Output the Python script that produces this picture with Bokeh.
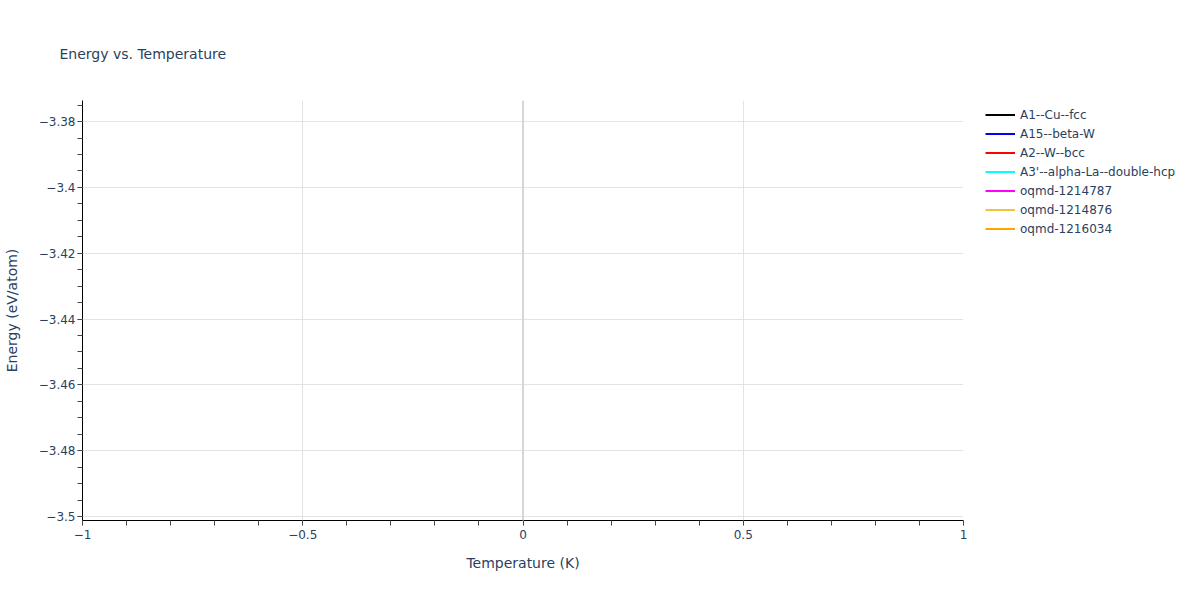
from bokeh.plotting import figure
from bokeh.layouts import row
from bokeh.models import (Legend, LegendItem, FixedTicker, CustomJSTickFormatter,
                          Range1d, Span, Title)
from bokeh.embed import file_html
from bokeh.resources import INLINE

# ---- data ----
series_names = ["A1--Cu--fcc", "A15--beta-W", "A2--W--bcc", "A3'--alpha-La--double-hcp",
                "oqmd-1214787", "oqmd-1214876", "oqmd-1216034"]
series_colors = ["black", "blue", "red", "cyan", "magenta", "#f0c43c", "orange"]
temperatures = [[0.0], [0.0], [0.0], [0.0], [0.0], [0.0], [0.0]]
energies = [[-3.4207], [-3.3737], [-3.5011], [-3.4398], [-3.4524], [-3.4615], [-3.4892]]

x_major = [-1.0, -0.5, 0.0, 0.5, 1.0]
x_minor = [round(-1.0 + 0.1 * i, 1) for i in range(21)]
y_major = [-3.5, -3.48, -3.46, -3.44, -3.42, -3.4, -3.38]
y_minor = [round(-3.5 + 0.005 * i, 3) for i in range(26)]

FONT = "DejaVu Sans"
TXT = "#2a3f5f"
GRID = "#e3e3e3"

H = 584
W_MAIN = 975
W_LEG = 1184 - W_MAIN
L, R, T, B = 81, 12, 100, 64

p = figure(width=W_MAIN, height=H, output_backend="svg", toolbar_location=None,
           x_range=Range1d(-1.0, 1.0), y_range=Range1d(-3.5012, -3.3736),
           min_border_left=L, min_border_right=R, min_border_top=T, min_border_bottom=B,
           background_fill_color="white", border_fill_color="white", outline_line_color=None)
p.title = Title(text="")

fmt = CustomJSTickFormatter(code="""
    var v = parseFloat(tick.toFixed(6));
    return v.toString().replace('-', '\u2212');
""")

for ax, major, minor in ((p.xaxis[0], x_major, x_minor), (p.yaxis[0], y_major, y_minor)):
    ax.ticker = FixedTicker(ticks=major, minor_ticks=minor)
    ax.formatter = fmt
    ax.axis_line_color = "black"
    ax.axis_line_width = 1
    ax.major_tick_line_color = "#b0b0b0"
    ax.major_tick_out = 5
    ax.major_tick_in = 0
    ax.minor_tick_line_color = "#444444"
    ax.minor_tick_out = 5
    ax.minor_tick_in = 0
    ax.major_label_text_font = FONT
    ax.major_label_text_font_size = "12px"
    ax.major_label_text_color = TXT
    ax.axis_label_text_font = FONT
    ax.axis_label_text_font_size = "14px"
    ax.axis_label_text_color = TXT
    ax.axis_label_text_font_style = "normal"

p.xaxis.axis_label = "Temperature (K)"
p.yaxis.axis_label = "Energy (eV/atom)"
p.xaxis.major_label_standoff = 4
p.xaxis.axis_label_standoff = 13
p.yaxis.major_label_standoff = 2
p.yaxis.axis_label_standoff = 16

p.xgrid.grid_line_color = GRID
p.ygrid.grid_line_color = GRID
p.xgrid.ticker = FixedTicker(ticks=x_major)
p.ygrid.ticker = FixedTicker(ticks=y_major)
p.add_layout(Span(location=0, dimension="height", line_color="#d6d6d6", line_width=2))

for col, xs, ys in zip(series_colors, temperatures, energies):
    p.line(xs, ys, line_color=col, line_width=2)

p.add_layout(Title(text="Energy vs. Temperature", text_font=FONT, text_font_size="14px",
                   text_color=TXT, text_font_style="normal", offset=-23, standoff=73,
                   text_line_height=1.5, vertical_align="top"), "above")

# ---- legend panel (separate figure to the right of the plot) ----
q = figure(width=W_LEG, height=H, output_backend="svg", toolbar_location=None,
           x_range=Range1d(-1.0, 1.0), y_range=Range1d(-3.5012, -3.3736),
           x_axis_type=None, y_axis_type=None,
           min_border_left=0, min_border_right=0, min_border_top=0, min_border_bottom=0,
           background_fill_color="white", border_fill_color="white", outline_line_color=None)
q.xgrid.visible = False
q.ygrid.visible = False

items = []
for name, col, xs, ys in zip(series_names, series_colors, temperatures, energies):
    r = q.line(xs, ys, line_color=col, line_width=2)
    items.append(LegendItem(label=name, renderers=[r]))

legend = Legend(items=items, location=(10, 282), orientation="vertical",
                background_fill_alpha=0, border_line_color=None,
                padding=0, margin=0, spacing=0,
                glyph_width=30, glyph_height=19, label_height=19, label_standoff=5,
                label_text_font=FONT, label_text_font_size="12px", label_text_color=TXT)
q.add_layout(legend, "center")

layout = row(p, q, spacing=0)
open("out.html", "w").write(file_html(layout, INLINE))
